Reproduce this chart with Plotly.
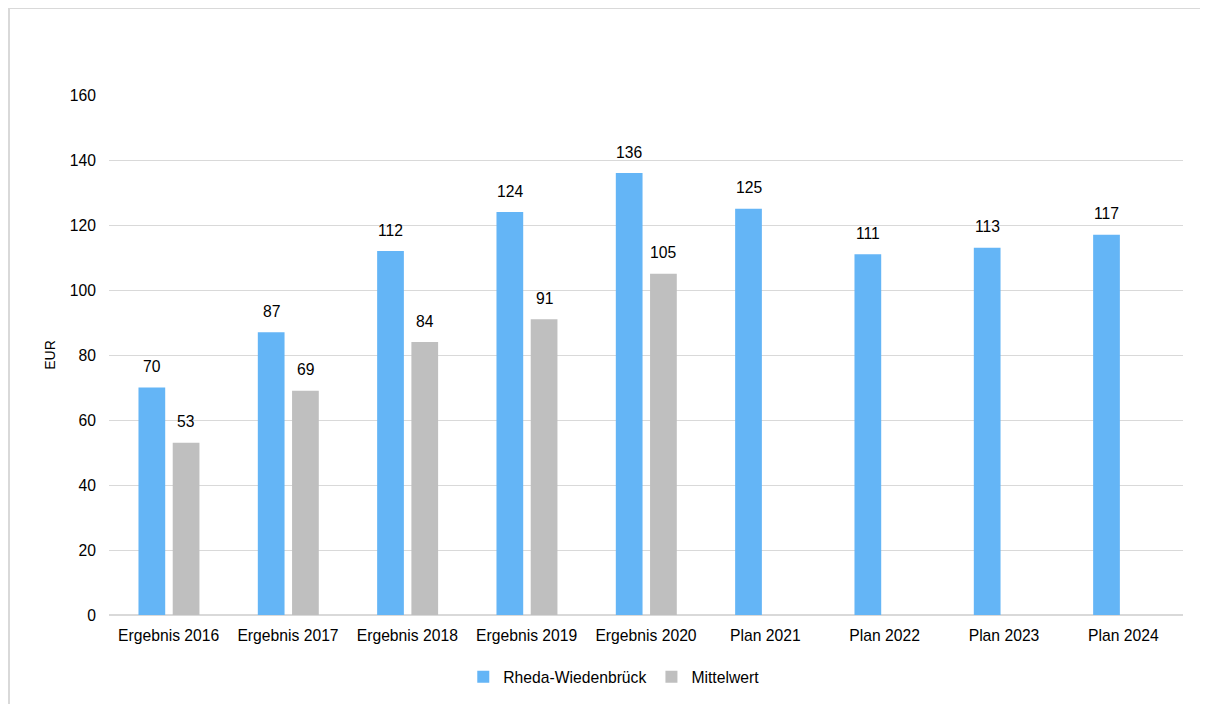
import plotly.graph_objects as go

categories = ["Ergebnis 2016", "Ergebnis 2017", "Ergebnis 2018", "Ergebnis 2019", "Ergebnis 2020",
              "Plan 2021", "Plan 2022", "Plan 2023", "Plan 2024"]
rheda = [70, 87, 112, 124, 136, 125, 111, 113, 117]
mittel = [53, 69, 84, 91, 105, None, None, None, None]
y_ticks = [0, 20, 40, 60, 80, 100, 120, 140, 160]

font = "Liberation Sans, Arial, sans-serif"
FS = 15.7
BAR_W = 0.224
BLUE_OFF = -0.253
GRAY_OFF = 0.034
CAT_PX = 1074 / len(categories)
W, H = 1200, 696

fig = go.Figure()
fig.add_trace(go.Bar(
    name="Rheda-Wiedenbrück", x=categories, y=rheda,
    marker=dict(color="#64B5F6", line=dict(width=0)),
    width=BAR_W, offset=BLUE_OFF,
))
fig.add_trace(go.Bar(
    name="Mittelwert", x=categories, y=mittel,
    marker=dict(color="#BFBFBF", line=dict(width=0)),
    width=BAR_W, offset=GRAY_OFF,
))

annotations = []
for c, v in zip(categories, rheda):
    annotations.append(dict(x=c, y=v, xref="x", yref="y", text=str(v), showarrow=False,
                            xshift=(BLUE_OFF + BAR_W / 2) * CAT_PX, yshift=21, yanchor="middle",
                            font=dict(size=FS, family=font, color="#000000")))
for c, v in zip(categories, mittel):
    if v is None:
        continue
    annotations.append(dict(x=c, y=v, xref="x", yref="y", text=str(v), showarrow=False,
                            xshift=(GRAY_OFF + BAR_W / 2) * CAT_PX, yshift=21, yanchor="middle",
                            font=dict(size=FS, family=font, color="#000000")))

fig.update_layout(
    width=W, height=H,
    margin=dict(l=101, r=W - 101 - 1074, t=87, b=H - 87 - 520, autoexpand=False),
    paper_bgcolor="white", plot_bgcolor="white",
    barmode="overlay",
    font=dict(family=font, size=FS, color="#000000"),
    showlegend=True,
    legend=dict(orientation="h", x=0.47, xanchor="center",
                yref="container", y=(H - 669) / H, yanchor="middle",
                font=dict(size=FS, family=font), traceorder="normal", bgcolor="rgba(0,0,0,0)"),
    xaxis=dict(showgrid=False, showline=True, linecolor="#d9d9d9", linewidth=1,
               ticks="", tickfont=dict(size=FS), fixedrange=True, automargin=False,
               ticklabelstandoff=6),
    yaxis=dict(range=[0, 160], tickvals=y_ticks, showgrid=True, gridcolor="#d9d9d9",
               gridwidth=1, zeroline=True, zerolinecolor="#d9d9d9", showline=False,
               ticks="", tickfont=dict(size=FS), automargin=False, ticklabelstandoff=12,
               title=dict(text="EUR", font=dict(size=14), standoff=10)),
    annotations=annotations,
    shapes=[
        dict(type="line", xref="paper", yref="paper", x0=-0.0931, x1=1.2, y0=1.1673, y1=1.1673,
             line=dict(color="#d9d9d9", width=2), layer="below"),
        dict(type="line", xref="paper", yref="paper", x0=-0.0931, x1=-0.0931, y0=-0.3, y1=1.1673,
             line=dict(color="#d9d9d9", width=2), layer="below"),
    ],
)

fig.write_html("out.html")
